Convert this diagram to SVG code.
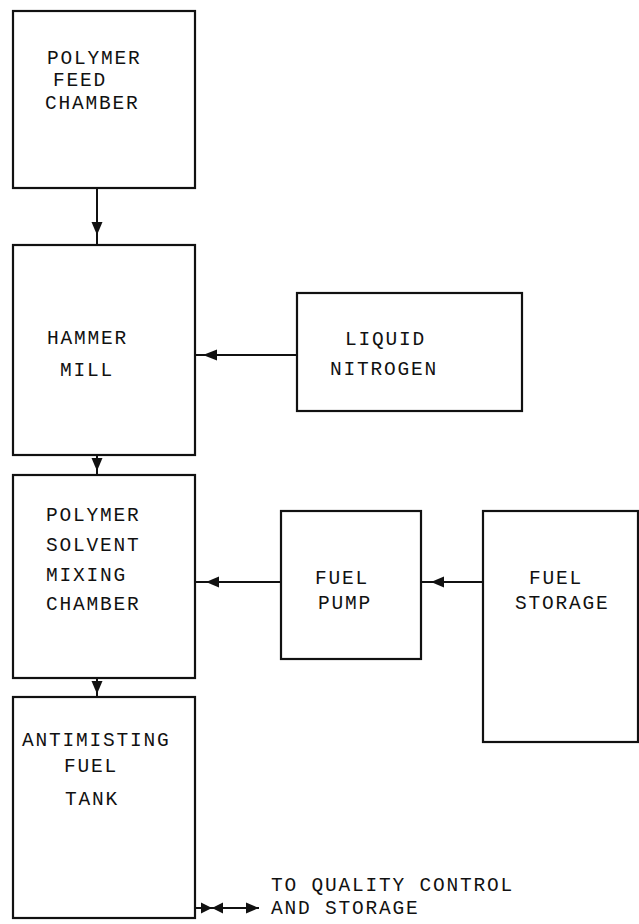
<svg xmlns="http://www.w3.org/2000/svg" width="639" height="924" viewBox="0 0 639 924">
<style>
.box{fill:#fff;stroke:#111;stroke-width:2.2}
.t{font-family:"Liberation Mono","DejaVu Sans Mono",monospace;font-size:19.5px;letter-spacing:1.8px;fill:#111}
.c{stroke:#111;stroke-width:2;fill:none}
</style>
<rect width="639" height="924" fill="#fff"/>
<g id="polymer-feed"><rect class="box" x="13" y="11" width="182" height="177"/>
<text class="t" x="47" y="64">POLYMER</text><text class="t" x="53" y="86">FEED</text><text class="t" x="45" y="109">CHAMBER</text></g>
<g id="hammer-mill"><rect class="box" x="13" y="245" width="182" height="210"/>
<text class="t" x="47" y="344">HAMMER</text><text class="t" x="60" y="376">MILL</text></g>
<g id="liquid-nitrogen"><rect class="box" x="297" y="293" width="225" height="118"/>
<text class="t" x="345" y="345">LIQUID</text><text class="t" x="330" y="375">NITROGEN</text></g>
<g id="mixing-chamber"><rect class="box" x="13" y="475" width="182" height="203"/>
<text class="t" x="46" y="521">POLYMER</text><text class="t" x="46" y="551">SOLVENT</text><text class="t" x="46" y="581">MIXING</text><text class="t" x="46" y="610">CHAMBER</text></g>
<g id="fuel-pump"><rect class="box" x="281" y="511" width="140" height="148"/>
<text class="t" x="315" y="584">FUEL</text><text class="t" x="318" y="609">PUMP</text></g>
<g id="fuel-storage"><rect class="box" x="483" y="511" width="155" height="231"/>
<text class="t" x="529" y="584">FUEL</text><text class="t" x="515" y="609">STORAGE</text></g>
<g id="antimisting-tank"><rect class="box" x="13" y="697" width="182" height="221"/>
<text class="t" x="22" y="746">ANTIMISTING</text><text class="t" x="64" y="772">FUEL</text><text class="t" x="65" y="805">TANK</text></g>
<g id="output-label"><text class="t" x="271" y="891">TO QUALITY CONTROL</text><text class="t" x="271" y="914">AND STORAGE</text></g>
<g id="connectors">
<line class="c" x1="97" y1="188" x2="97" y2="245"/><path d="M91.5,222 L102.5,222 L97,235 z" fill="#111"/>
<line class="c" x1="297" y1="355" x2="195" y2="355"/><path d="M217,349.5 L217,360.5 L203,355 z" fill="#111"/>
<line class="c" x1="97" y1="455" x2="97" y2="475"/><path d="M91.5,458 L102.5,458 L97,471 z" fill="#111"/>
<line class="c" x1="281" y1="582" x2="195" y2="582"/><path d="M219,576.5 L219,587.5 L206,582 z" fill="#111"/>
<line class="c" x1="483" y1="582" x2="421" y2="582"/><path d="M444,576.5 L444,587.5 L431,582 z" fill="#111"/>
<line class="c" x1="97" y1="678" x2="97" y2="697"/><path d="M91.5,681 L102.5,681 L97,694 z" fill="#111"/>
<line class="c" x1="195" y1="908" x2="259" y2="908"/>
<path d="M201,902.5 L201,913.5 L212,908 z" fill="#111"/><path d="M223,902.5 L223,913.5 L212,908 z" fill="#111"/><path d="M246,902.5 L246,913.5 L259,908 z" fill="#111"/>
</g>
</svg>
